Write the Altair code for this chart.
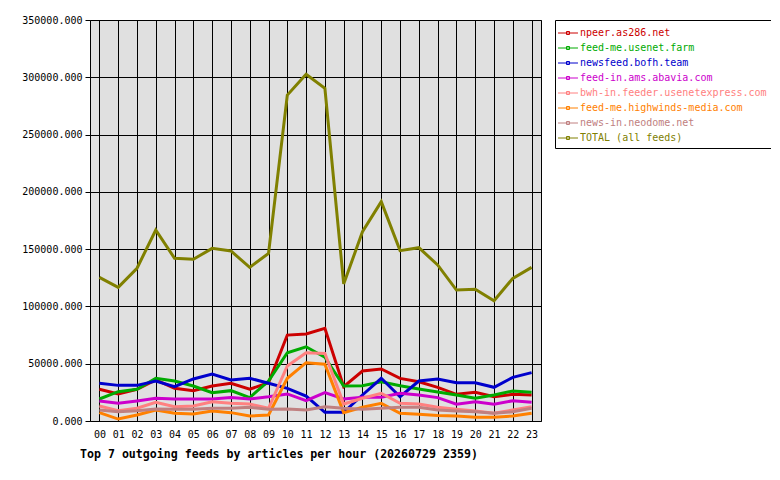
import pandas as pd
import altair as alt

FONT = "DejaVu Sans Mono"

hours = list(range(24))

feeds = [
    "npeer.as286.net",
    "feed-me.usenet.farm",
    "newsfeed.bofh.team",
    "feed-in.ams.abavia.com",
    "bwh-in.feeder.usenetexpress.com",
    "feed-me.highwinds-media.com",
    "news-in.neodome.net",
    "TOTAL (all feeds)",
]
colors = ["#cc0000", "#00aa00", "#0000cc", "#cc00cc",
          "#ff8080", "#ff8000", "#c08080", "#808000"]

npeer = [27700, 23600, 27700, 35800, 28500, 26500, 30500, 32900, 27700, 33400,
         75000, 75900, 80900, 29900, 43600, 45400, 37200, 34300, 29400, 23300,
         25000, 21200, 23300, 22700]
usenet_farm = [19200, 25600, 27700, 37300, 34900, 30500, 24700, 26500, 20400, 34900,
               59600, 64800, 55600, 30500, 30800, 34300, 30800, 27900, 25300, 22700,
               19800, 22700, 26200, 25000]
bofh = [32900, 31100, 31100, 34900, 29900, 36700, 41000, 35800, 37300, 32900,
        28500, 21800, 7600, 7600, 22700, 37300, 21200, 34900, 36700, 33400,
        33400, 29400, 38100, 42200]
abavia = [17500, 15400, 17500, 19800, 19200, 19200, 19200, 20400, 19200, 21200,
          23600, 17700, 24700, 19200, 20700, 20700, 24200, 22700, 20400, 14600,
          16800, 14600, 17700, 16300]
usenetexpress = [13100, 9000, 11100, 16300, 12500, 13100, 16800, 15400, 14800, 11100,
                 48000, 59600, 59000, 14800, 19800, 24200, 15400, 14800, 12000, 10200,
                 8700, 6700, 9600, 12500]
highwinds = [7300, 1700, 5200, 9600, 6700, 6100, 8700, 7300, 4400, 5200,
             37300, 50900, 49500, 7300, 12000, 15400, 6700, 5800, 4700, 4400,
             3200, 3200, 4400, 6700]
neodome = [9600, 8100, 9000, 10500, 10200, 10200, 11100, 11100, 12000, 10200,
           10500, 9600, 12500, 11100, 10200, 11100, 12000, 12000, 9600, 8700,
           8100, 6700, 8100, 11100]
total = [125400, 116700, 133300, 166700, 142000, 141100, 150700, 148400, 134100, 146300,
         284500, 302600, 290400, 119600, 165200, 191400, 148700, 151300, 136200, 114300,
         115000, 105000, 124500, 134100]

series = [npeer, usenet_farm, bofh, abavia, usenetexpress, highwinds, neodome, total]

rows = []
for i, (name, vals) in enumerate(zip(feeds, series)):
    for h, v in zip(hours, vals):
        rows.append({"hour": h, "articles": v, "feed": name, "order": i})
df = pd.DataFrame(rows)

color_scale = alt.Scale(domain=feeds, range=colors)

lines = alt.Chart(df).mark_line(strokeWidth=3, strokeJoin="miter").encode(
    x=alt.X("hour:Q", scale=alt.Scale(domain=[-0.5, 23.5], nice=False, zero=False),
            axis=alt.Axis(title=None, values=hours, grid=True, ticks=False,
                          labelExpr="datum.value < 10 ? '0' + datum.value : '' + datum.value",
                          labelPadding=8, domain=False)),
    y=alt.Y("articles:Q", scale=alt.Scale(domain=[0, 350000], nice=False),
            axis=alt.Axis(title=None, values=list(range(0, 350001, 50000)),
                          format=".3f", grid=True, tickSize=5, labelPadding=3,
                          domain=False)),
    color=alt.Color("feed:N", scale=color_scale, sort=feeds,
                    legend=alt.Legend(
                        title=None, orient="none", legendX=465, legendY=0,
                        padding=5, strokeColor="black", fillColor="white",
                        symbolType="M-1.33,0H1.33M-0.2,-0.2H0.2V0.2H-0.2Z",
                        symbolSize=225, symbolStrokeWidth=1,
                        symbolFillColor="white", labelFont=FONT,
                        labelFontSize=10, labelOffset=4, rowPadding=2,
                        labelLimit=400,
                        labelColor={"expr": "scale('color', datum.value)"})),
    order="order:Q",
    detail="feed:N",
)

chart = lines.properties(
    width=451,
    height=401,
    background="white",
    autosize=alt.AutoSizeParams(type="none"),
    padding={"left": 82, "top": 12, "right": 230, "bottom": 50},
    title=alt.TitleParams(
        "Top 7 outgoing feeds by articles per hour (20260729 2359)",
        orient="bottom", anchor="start", frame="group", dx=-10, offset=10,
        font=FONT, fontSize=11.6, fontWeight="bold", color="black"),
).configure_view(
    fill="#e0e0e0", stroke="black", strokeWidth=1
).configure_axis(
    gridColor="black", gridOpacity=1, gridWidth=1,
    tickColor="black", tickWidth=1,
    labelFont=FONT, labelFontSize=10, labelColor="black",
)

chart.save("out.html", embed_options={"renderer": "svg", "actions": False})
